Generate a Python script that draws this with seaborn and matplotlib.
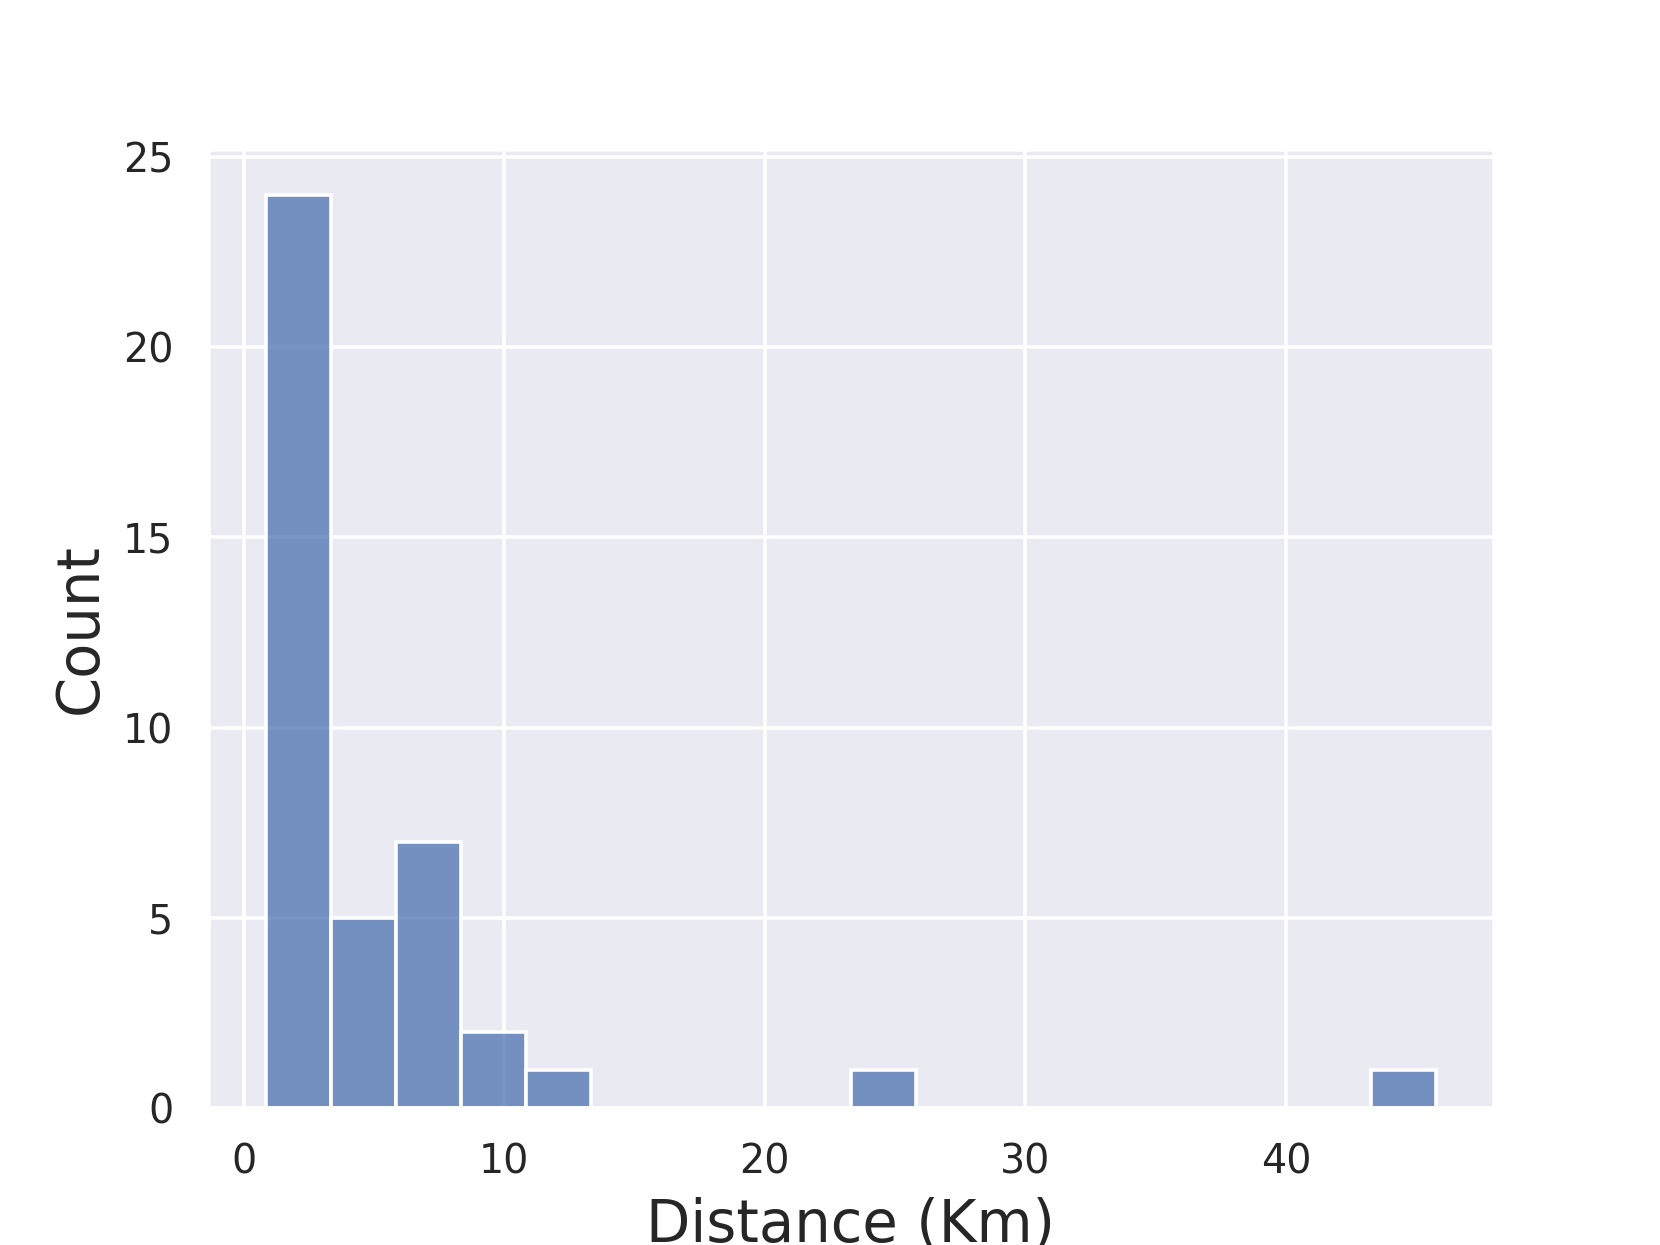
import matplotlib
matplotlib.use("Agg")
import matplotlib.pyplot as plt
import seaborn as sns
import pandas as pd

bin0 = [0.86, 1.0, 1.2, 1.3, 1.4, 1.5, 1.6, 1.7, 1.8, 1.9, 2.0, 2.1,
        2.2, 2.3, 2.4, 2.5, 2.6, 2.7, 2.8, 2.9, 3.0, 3.1, 3.15, 3.2]
bin1 = [3.5, 4.0, 4.5, 5.0, 5.5]
bin2 = [6.0, 6.4, 6.8, 7.2, 7.6, 7.9, 8.1]
bin3 = [9.0, 10.0]
bin4 = [12.0]
bin9 = [24.5]
bin17 = [45.74]

distances = bin0 + bin1 + bin2 + bin3 + bin4 + bin9 + bin17

sns.set_theme(style="darkgrid", context="notebook")
fig, ax = plt.subplots(figsize=(6.4, 4.8), dpi=259.375)
df = pd.DataFrame({"Distance (Km)": distances})
sns.histplot(data=df, x="Distance (Km)", bins=18, binrange=(0.86, 45.74), ax=ax)
ax.set_xlabel("Distance (Km)", fontsize=16)
ax.set_ylabel("Count", fontsize=16)
fig.savefig("out.png", dpi=259.375)
